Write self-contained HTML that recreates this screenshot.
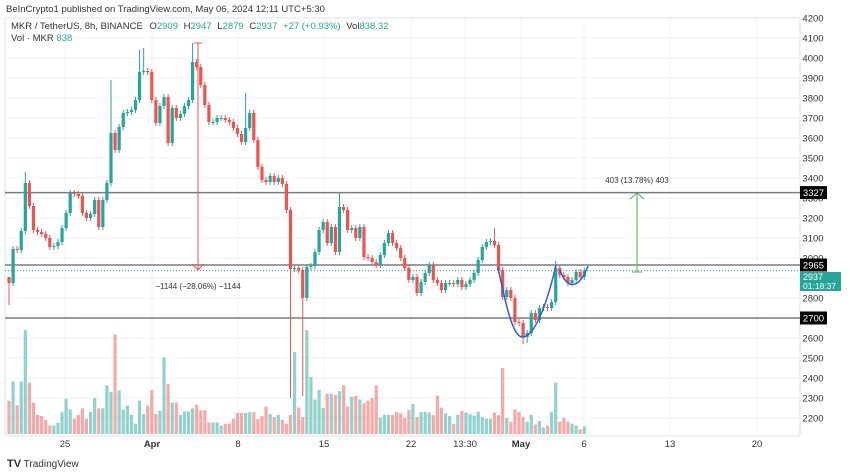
<!DOCTYPE html>
<html><head><meta charset="utf-8">
<style>
body{margin:0;background:#fff;font-family:"Liberation Sans",sans-serif;}
#wrap{position:relative;width:850px;height:474px;overflow:hidden;}
svg text{font-family:"Liberation Sans",sans-serif;}
</style></head>
<body>
<div id="wrap">
<svg id="chart" width="850" height="474"></svg>
</div>
<script>
const closes=[2875,3045,3040,3135,3375,3260,3140,3130,3120,3100,3055,3060,3080,3150,3225,3325,3320,3310,3225,3200,3220,3290,3155,3290,3375,3625,3540,3655,3725,3730,3740,3790,3930,3935,3930,3790,3675,3760,3805,3575,3750,3700,3720,3760,3790,3980,3955,3865,3765,3680,3680,3700,3700,3690,3680,3650,3620,3580,3650,3725,3590,3455,3390,3380,3410,3380,3400,3370,3240,
2945,2950,2940,2800,2955,2960,3030,3140,3180,3075,3155,3030,3255,3240,3140,3150,3100,3155,3005,3000,2980,2965,3015,3075,3125,3075,3050,3000,2950,2890,2905,2825,2880,2925,2965,2890,2875,2840,2875,2875,2870,2890,2855,2870,2890,2925,2990,3055,3080,3085,3065,2940,2805,2840,2800,2680,2675,2605,2625,2725,2690,2750,2755,2750,2780,2950,2915,2905,2875,2890,2930,2905,2937];
const firstOpen=2905;
const highExceptions={0:2900,4:3430,25:3890,32:4040,33:4050,45:4075,58:3825,81:3330,119:3150,134:2985};
const lowExceptions={0:2765,69:2300,72:2310,126:2570,127:2575};
const volumes=[87,137,75,137,272,134,82,50,47,37,22,22,29,57,92,64,40,50,67,40,57,94,67,67,127,110,260,114,64,74,50,27,87,52,74,114,52,60,200,130,82,82,50,59,59,67,77,62,62,30,30,30,22,27,27,40,55,55,55,57,57,39,47,72,52,44,50,37,27,50,214,69,44,271,149,90,115,68,105,105,102,112,127,72,97,99,90,80,87,94,127,42,50,50,50,57,54,42,62,78,44,57,58,56,49,100,69,54,47,26,50,60,56,52,48,58,44,40,40,56,49,172,42,31,64,57,44,32,50,25,34,17,22,57,134,32,42,32,27,22,12,20];
const priceTicks=[4200,4100,4000,3900,3800,3700,3600,3500,3400,3300,3200,3100,3000,2900,2800,2700,2600,2500,2400,2300,2200];
const dateLabels=["25","Apr","8","15","22","13:30","May","6","13","20"];
const dateXs=[65,152,238,324,411,465,521,584,670,757];
const levels=[3327,2965,2700];

const NS="http://www.w3.org/2000/svg";
const svg=document.getElementById('chart');
function el(t,a,p){const e=document.createElementNS(NS,t);for(const k in a)e.setAttribute(k,a[k]);(p||svg).appendChild(e);return e;}
const yP=p=>318-(p-2700)*0.2;
const xI=i=>9+i*4.08;
const yV=v=>434-v*0.383;
const G="#26a69a",R="#ef5350";

for(const t of priceTicks){const g=el('line',{x1:5,x2:800,y1:yP(t),y2:yP(t),stroke:"#f0f3fa","stroke-width":1});

}
for(const x of dateXs){const g=el('line',{x1:x,x2:x,y1:18,y2:436,stroke:"#f0f3fa","stroke-width":1});

}
el('rect',{x:5,y:18,width:795,height:418,fill:"none",stroke:"#e0e3eb","stroke-width":1});

closes.forEach((c,i)=>{const o=i?closes[i-1]:firstOpen;const v=volumes[i]||20;
const b=el('rect',{x:xI(i)-1.6,y:yV(v),width:3.2,height:434-yV(v),fill:c>=o?"rgba(38,166,154,0.5)":"rgba(239,83,80,0.5)"});

});

for(const l of levels){const ln=el('line',{x1:5,x2:800,y1:yP(l),y2:yP(l),stroke:"#787b86","stroke-width":1.5});

}
const last=closes[closes.length-1];
const pl=el('line',{x1:5,x2:800,y1:yP(last),y2:yP(last),stroke:G,"stroke-width":1,"stroke-dasharray":"1,2"});



closes.forEach((c,i)=>{const o=i?closes[i-1]:firstOpen;
const h=highExceptions[i]!==undefined?highExceptions[i]:Math.max(o,c)+15;
const lo=lowExceptions[i]!==undefined?lowExceptions[i]:Math.min(o,c)-15;
const col=c>=o?G:R;const x=xI(i);
const g=el('g',{});


el('line',{x1:x,x2:x,y1:yP(h),y2:yP(lo),stroke:col,"stroke-width":1},g);
const t=yP(Math.max(o,c)),bt=yP(Math.min(o,c));
el('rect',{x:x-1.6,y:t,width:3.2,height:Math.max(1,bt-t),fill:col},g);});

const cup=el('path',{d:"M498,268 C505,300 512,336 522,337 C535,338 548,300 556,265",fill:"none",stroke:"#2f5bd8","stroke-width":1.5});


const handle=el('path',{d:"M560,270 C566,288 578,292 588,266",fill:"none",stroke:"#2f5bd8","stroke-width":1.5});



const m1=el('g',{});


el('line',{x1:198,x2:198,y1:43,y2:270,stroke:R,"stroke-width":1},m1);
el('line',{x1:194,x2:202,y1:43,y2:43,stroke:R,"stroke-width":1},m1);
el('path',{d:"M192,264 L198,270 L204,264",fill:"none",stroke:R,"stroke-width":1},m1);
el('text',{x:198,y:289,"font-size":8,fill:"#333","text-anchor":"middle"},m1).textContent="−1144 (−28.06%) −1144";
const m2=el('g',{});


el('line',{x1:637,x2:637,y1:193,y2:272,stroke:"#4caf50","stroke-width":1},m2);
el('line',{x1:632,x2:642,y1:272,y2:272,stroke:"#4caf50","stroke-width":1},m2);
el('path',{d:"M630,199 L637,193 L644,199",fill:"none",stroke:"#4caf50","stroke-width":1},m2);
el('text',{x:637,y:183,"font-size":8,fill:"#333","text-anchor":"middle"},m2).textContent="403 (13.78%) 403";

for(const t of priceTicks){const tx=el('text',{x:813,y:yP(t)+3.5,"font-size":9.5,fill:"#333","text-anchor":"middle"});
tx.textContent=t;

}
for(const l of levels){const gg=el('g',{});


el('rect',{x:800,y:yP(l)-6.5,width:27,height:13,fill:"#000"},gg);
el('text',{x:813.5,y:yP(l)+3.5,"font-size":9.5,fill:"#fff","text-anchor":"middle"},gg).textContent=l;}
const lp=el('g',{});


const lpTop=yP(2965)+7;
el('rect',{x:800,y:lpTop,width:41,height:19,fill:G},lp);
el('text',{x:803,y:lpTop+8,"font-size":9,fill:"#fff"},lp).textContent=last;
el('text',{x:803,y:lpTop+17,"font-size":8.5,fill:"#fff"},lp).textContent="01:18:37";

dateLabels.forEach((d,i)=>{const tx=el('text',{x:dateXs[i],y:447,"font-size":9.5,fill:"#333","text-anchor":"middle","font-weight":(d==="Apr"||d==="May")?"bold":"normal"});
tx.textContent=d;

});

const h1=el('text',{x:6,y:12,"font-size":9.5,fill:"#333"});h1.textContent="BeInCrypto1 published on TradingView.com, May 06, 2024 12:11 UTC+5:30";


const lg=el('text',{x:11,y:29,"font-size":9.5,fill:"#333"});


lg.innerHTML='MKR / TetherUS, 8h, BINANCE <tspan dx="4">O</tspan><tspan fill="#26a69a">2909</tspan> <tspan dx="3">H</tspan><tspan fill="#26a69a">2947</tspan> <tspan dx="3">L</tspan><tspan fill="#26a69a">2879</tspan> <tspan dx="3">C</tspan><tspan fill="#26a69a">2937</tspan> <tspan dx="3" fill="#26a69a">+27 (+0.93%)</tspan> <tspan dx="3">Vol</tspan><tspan fill="#26a69a">838.32</tspan>';
const vl=el('text',{x:11,y:41,"font-size":9.5,fill:"#333"});


vl.innerHTML='Vol · MKR  <tspan fill="#26a69a">838</tspan>';
const lo=el('text',{x:7,y:467,"font-size":10,fill:"#333"});


lo.innerHTML='<tspan font-weight="bold" font-size="11">TV</tspan> TradingView';
</script>
</body></html>
